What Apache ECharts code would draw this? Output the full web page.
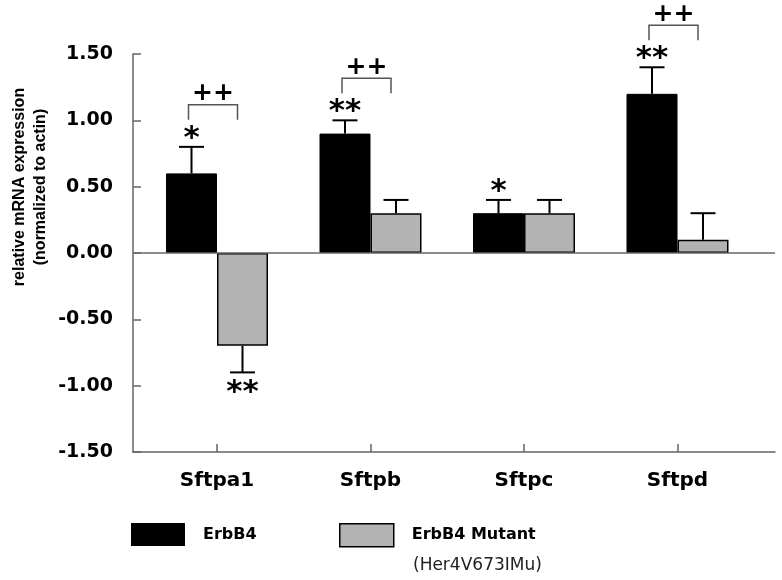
<!DOCTYPE html>
<html>
<head>
<meta charset="utf-8">
<script src="https://cdn.jsdelivr.net/npm/echarts@6/dist/echarts.min.js"></script>
<style>
html,body{margin:0;padding:0;background:#fff;}
#chart{width:782px;height:580px;}
</style>
</head>
<body>
<div id="chart"></div>
<script>
// ---- data ----
const categories = ['Sftpa1', 'Sftpb', 'Sftpc', 'Sftpd'];
const erbb4 = [0.6, 0.9, 0.3, 1.2];
const erbb4Err = [0.2, 0.1, 0.1, 0.2];
const mutant = [-0.7, 0.3, 0.3, 0.1];
const mutantErr = [0.2, 0.1, 0.1, 0.2];
const erbb4Marks = ['*', '**', '*', '**'];
const mutantMarks = ['**', '', '', ''];
const pairMarks = ['++', '++', '', '++'];
const yMin = -1.5, yMax = 1.5, yStep = 0.5;
const seriesNames = ['ErbB4', 'ErbB4 Mutant'];
const mutantNote = '(Her4V673IMu)';
const yTitle = 'relative mRNA expression\n(normalized to actin)';

// ---- chart ----
const chart = echarts.init(document.getElementById('chart'), null, {renderer: 'canvas'});
const HALF = 25.5;        // half bar width in px
const AXIS_COLOR = '#666';
const GRAY = '#b3b3b3';
const vals = [erbb4, mutant];
const errs = [erbb4Err, mutantErr];
const marks = [erbb4Marks, mutantMarks];

const errData = [];
const starData = [];
categories.forEach((c, i) => {
  [0, 1].forEach(s => {
    errData.push([i, vals[s][i], errs[s][i], s]);
    if (marks[s][i]) starData.push([i, vals[s][i], s]);
  });
});
const pairData = [];
categories.forEach((c, i) => { if (pairMarks[i]) pairData.push([i, 0]); });

function endValue(s, i) {
  const v = vals[s][i];
  return v >= 0 ? v + errs[s][i] : v - errs[s][i];
}

const option = {
  animation: false,
  backgroundColor: '#fff',
  grid: [
    {left: 133, right: 7, top: 54, bottom: 128},
    {left: 140.25, right: 27.75, top: 54, bottom: 128}
  ],
  xAxis: [
    {gridIndex: 0, type: 'value', min: 0, max: 1, position: 'bottom',
     axisLine: {show: true, onZero: false, lineStyle: {color: AXIS_COLOR, width: 1.5}},
     axisTick: {show: false}, axisLabel: {show: false}, splitLine: {show: false}},
    {gridIndex: 1, type: 'category', data: categories, position: 'bottom',
     axisLine: {show: false, onZero: false},
     axisTick: {show: true, inside: true, alignWithLabel: true, length: 8, lineStyle: {color: AXIS_COLOR, width: 1.5}},
     axisLabel: {margin: 19, color: '#000', fontFamily: 'DejaVu Sans', fontWeight: 'bold', fontSize: 20},
     splitLine: {show: false}}
  ],
  yAxis: [
    {gridIndex: 0, type: 'value', min: yMin, max: yMax, interval: yStep,
     axisLine: {show: true, lineStyle: {color: AXIS_COLOR, width: 1.5}},
     axisTick: {show: true, inside: true, length: 8, lineStyle: {color: AXIS_COLOR, width: 1.5}},
     axisLabel: {margin: 20, color: '#000', fontFamily: 'DejaVu Sans', fontWeight: 'bold', fontSize: 19,
                 formatter: v => v.toFixed(2)},
     splitLine: {show: false}},
    {gridIndex: 1, type: 'value', min: yMin, max: yMax, interval: yStep, show: false}
  ],
  legend: [
    {left: 131, top: 523, padding: 0, itemWidth: 54, itemHeight: 23, selectedMode: false,
     data: [{name: seriesNames[0], icon: 'rect', itemStyle: {color: '#000', borderWidth: 0}}],
     textStyle: {color: '#000', fontFamily: 'DejaVu Sans', fontWeight: 'bold', fontSize: 16, padding: [8, 0, 0, 13]}},
    {left: 339, top: 523, padding: 0, itemWidth: 54, itemHeight: 23, selectedMode: false,
     data: [{name: seriesNames[1], icon: 'rect', itemStyle: {color: GRAY, borderColor: '#000', borderWidth: 1.5}}],
     textStyle: {color: '#000', fontFamily: 'DejaVu Sans', fontWeight: 'bold', fontSize: 16, padding: [8, 0, 0, 13]}}
  ],
  graphic: [
    {type: 'text', x: 30, y: 187, rotation: Math.PI / 2, silent: true,
     style: {text: yTitle, fill: '#000', font: 'bold 16px "Liberation Sans"', align: 'center', verticalAlign: 'middle', lineHeight: 21}},
    {type: 'text', left: 413, top: 557, silent: true,
     style: {text: mutantNote, fill: '#222', font: '17px "DejaVu Sans"'}}
  ],
  series: [
    {name: 'zero', type: 'line', xAxisIndex: 0, yAxisIndex: 0, data: [], silent: true,
     markLine: {silent: true, symbol: 'none', label: {show: false},
                lineStyle: {color: AXIS_COLOR, type: 'solid', width: 1.5},
                emphasis: {disabled: true},
                data: [{yAxis: 0}]}},
    {name: seriesNames[0], type: 'bar', xAxisIndex: 1, yAxisIndex: 1, data: erbb4,
     barWidth: 51, barGap: '0%', silent: true,
     itemStyle: {color: '#000', borderColor: '#000', borderWidth: 1}},
    {name: seriesNames[1], type: 'bar', xAxisIndex: 1, yAxisIndex: 1, data: mutant,
     barWidth: 51, barGap: '0%', silent: true,
     itemStyle: {color: GRAY, borderColor: '#000', borderWidth: 1.5}},
    {name: 'err', type: 'custom', xAxisIndex: 1, yAxisIndex: 1, data: errData, silent: true, z: 3,
     renderItem: function (params, api) {
       const i = api.value(0), v = api.value(1), e = api.value(2), s = api.value(3);
       const dir = v >= 0 ? 1 : -1;
       const p0 = api.coord([i, v]);
       const p1 = api.coord([i, v + dir * e]);
       const x = p0[0] + (s === 0 ? -HALF : HALF);
       return {type: 'group', children: [
         {type: 'line', shape: {x1: x, y1: p0[1], x2: x, y2: p1[1]}, style: {stroke: '#000', lineWidth: 2}},
         {type: 'line', shape: {x1: x - 12.5, y1: p1[1], x2: x + 12.5, y2: p1[1]}, style: {stroke: '#000', lineWidth: 2}}
       ]};
     }},
    {name: 'stars', type: 'custom', xAxisIndex: 1, yAxisIndex: 1, data: starData, silent: true, z: 4,
     renderItem: function (params, api) {
       const i = api.value(0), s = api.value(2);
       const v = vals[s][i];
       const p = api.coord([i, endValue(s, i)]);
       const x = p[0] + (s === 0 ? -HALF : HALF);
       const target = v >= 0 ? p[1] - 13 : p[1] + 16;
       return {type: 'text', x: x, y: target + 5,
               style: {text: marks[s][i], fill: '#000', font: 'bold 31px "DejaVu Sans"', align: 'center', verticalAlign: 'middle'}};
     }},
    {name: 'pairs', type: 'custom', xAxisIndex: 1, yAxisIndex: 1, data: pairData, silent: true, z: 4,
     renderItem: function (params, api) {
       const i = api.value(0);
       const top = Math.max(0, endValue(0, i), endValue(1, i));
       const p = api.coord([i, top]);
       const xl = p[0] - HALF - 3, xr = p[0] + HALF - 5;
       const yb = p[1] - 27, yt = p[1] - 42;
       return {type: 'group', children: [
         {type: 'polyline', shape: {points: [[xl, yb], [xl, yt], [xr, yt], [xr, yb]]},
          style: {stroke: '#555', lineWidth: 1.5, fill: null}},
         {type: 'text', x: (xl + xr) / 2, y: p[1] - 53,
          style: {text: pairMarks[i], fill: '#000', font: 'bold 25px "DejaVu Sans"', align: 'center', verticalAlign: 'middle'}}
       ]};
     }}
  ]
};
chart.setOption(option);
</script>
</body>
</html>
